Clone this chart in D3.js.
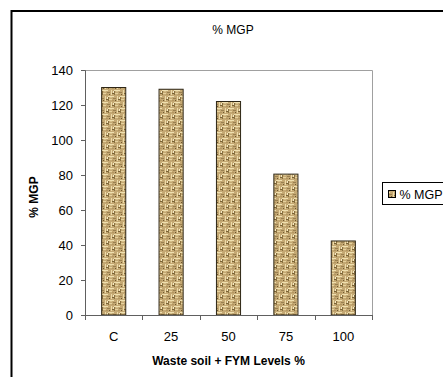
<!DOCTYPE html>
<html>
<head>
<meta charset="utf-8">
<script src="https://cdn.jsdelivr.net/npm/d3@7/dist/d3.min.js"></script>
<style>
  html, body { margin: 0; padding: 0; background: #fff; }
  svg { display: block; font-family: "Liberation Sans", Arial, sans-serif; }
</style>
</head>
<body>
<svg id="chart" width="443" height="377"></svg>
<script>
// Treatment levels and their % MGP values
const categories = ["C", "25", "50", "75", "100"];
const values = [130, 129, 122, 80.5, 42.3];
const yTicks = [0, 20, 40, 60, 80, 100, 120, 140];
const seriesName = "% MGP";
const chartTitle = "% MGP";
const xTitle = "Waste soil + FYM Levels %";
const yTitle = "% MGP";

const svg = d3.select("#chart");
const plot = { left: 85, right: 372, top: 70, bottom: 315 };

// Woven burlap-like fill for the bars
const defs = svg.append("defs");
const pat = defs.append("pattern")
  .attr("id", "weave").attr("patternUnits", "userSpaceOnUse")
  .attr("width", 12).attr("height", 12);
pat.append("rect").attr("width", 12).attr("height", 12).attr("fill", "#c4a873");
[
  // light horizontal threads
  [0,0,6,1,"#f0e0b0"],[6,6,6,1,"#f0e0b0"],[1,3,3,1,"#e6d29e"],[7,9,3,1,"#e6d29e"],
  // light vertical threads
  [9,0,1,5,"#ecdaa8"],[3,6,1,5,"#ecdaa8"],
  // dark gaps between threads
  [0,1,1,4,"#8a7140"],[6,7,1,4,"#8a7140"],[5,2,3,1,"#9a8050"],[11,8,1,1,"#9a8050"],[0,8,2,1,"#9a8050"],
  [10,3,2,1,"#7a6234"],[4,9,2,1,"#7a6234"],[7,4,1,1,"#6e5830"],[1,10,1,1,"#6e5830"],
  // mid-tone speckles
  [2,1,2,1,"#d6c08a"],[8,7,2,1,"#d6c08a"],[4,4,2,1,"#b39660"],[10,10,2,1,"#b39660"],
  [11,1,1,2,"#f5e9c4"],[5,7,1,2,"#f5e9c4"]
].forEach(([x, y, w, h, c]) => pat.append("rect")
   .attr("x", x).attr("y", y).attr("width", w).attr("height", h).attr("fill", c));

// Outer chart frame
svg.append("path")
  .attr("d", "M11.5,377 V11 H443")
  .attr("fill", "none").attr("stroke", "#000").attr("stroke-width", 2);

const x = d3.scaleBand().domain(categories).range([plot.left, plot.right]).padding(0);
const y = d3.scaleLinear().domain([0, 140]).range([plot.bottom, plot.top]);

// Plot area outline (top and right)
svg.append("path")
  .attr("d", `M${plot.left},${plot.top + 0.5} H${plot.right + 0.5} V${plot.bottom}`)
  .attr("fill", "none").attr("stroke", "#a0a0a0").attr("stroke-width", 1);

// Bars
const barW = x.bandwidth() * 0.42;
svg.append("g").selectAll("rect").data(values).join("rect")
  .attr("x", (d, i) => x(categories[i]) + (x.bandwidth() - barW) / 2)
  .attr("y", d => y(d))
  .attr("width", barW)
  .attr("height", d => y(0) - y(d))
  .attr("fill", "url(#weave)")
  .attr("stroke", "#2e2616").attr("stroke-width", 1);

// Y axis
const yAxis = svg.append("g")
  .attr("transform", `translate(${plot.left},0)`)
  .call(d3.axisLeft(y).tickValues(yTicks).tickSize(4).tickPadding(8));
yAxis.select(".domain").attr("stroke", "#606060");
yAxis.selectAll(".tick line").attr("stroke", "#606060");
yAxis.selectAll("text").attr("font-size", 13).attr("fill", "#000")
  .attr("font-family", "Liberation Sans, Arial, sans-serif");

// X axis: labels centred on categories, tick marks at category boundaries
const xAxis = svg.append("g")
  .attr("transform", `translate(0,${plot.bottom})`)
  .call(d3.axisBottom(x).tickSize(0).tickPadding(17));
xAxis.select(".domain").remove();
xAxis.selectAll("text").attr("font-size", 13).attr("fill", "#000")
  .attr("font-family", "Liberation Sans, Arial, sans-serif");
const edges = categories.map(c => x(c)).concat([x(categories[categories.length - 1]) + x.bandwidth()]);
const xl = svg.append("g").attr("stroke", "#606060");
xl.append("line").attr("x1", plot.left).attr("x2", plot.right + 0.5)
  .attr("y1", plot.bottom + 0.5).attr("y2", plot.bottom + 0.5);
xl.selectAll("line.tk").data(edges).join("line").attr("class", "tk")
  .attr("x1", d => Math.round(d) + 0.5).attr("x2", d => Math.round(d) + 0.5)
  .attr("y1", plot.bottom).attr("y2", plot.bottom + 5);

// Titles
svg.append("text").attr("x", 233).attr("y", 34).attr("text-anchor", "middle")
  .attr("font-size", 12).text(chartTitle);
svg.append("text").attr("x", (plot.left + plot.right) / 2).attr("y", 365)
  .attr("text-anchor", "middle").attr("font-size", 12).attr("font-weight", "bold").text(xTitle);
svg.append("text").attr("transform", "translate(38,197) rotate(-90)")
  .attr("text-anchor", "middle").attr("font-size", 12).attr("font-weight", "bold").text(yTitle);

// Legend
const lg = svg.append("g");
lg.append("rect").attr("x", 382.5).attr("y", 182.5).attr("width", 80).attr("height", 22)
  .attr("fill", "#fff").attr("stroke", "#000").attr("stroke-width", 1);
lg.append("rect").attr("x", 388.5).attr("y", 190.5).attr("width", 7).attr("height", 7)
  .attr("fill", "url(#weave)").attr("stroke", "#000").attr("stroke-width", 1);
lg.append("text").attr("x", 399.5).attr("y", 198.5).attr("font-size", 12.5).text(seriesName);
</script>
</body>
</html>
